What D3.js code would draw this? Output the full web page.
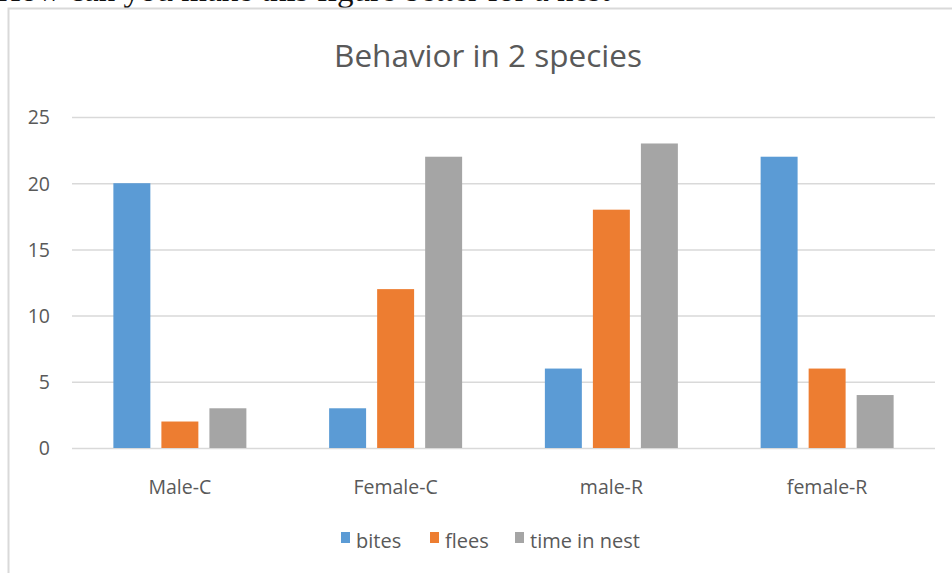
<!DOCTYPE html>
<html>
<head>
<meta charset="utf-8">
<script src="https://cdn.jsdelivr.net/npm/d3@7"></script>
<style>
  html, body { margin: 0; padding: 0; background: #fff; }
  svg { display: block; }
</style>
</head>
<body>
<svg id="chart" width="952" height="573"></svg>
<script>
// Behaviour counts per group
const categories = ["Male-C", "Female-C", "male-R", "female-R"];
const seriesNames = ["bites", "flees", "time in nest"];
const bites = [20, 3, 6, 22];
const flees = [2, 12, 18, 6];
const timeInNest = [3, 22, 23, 4];
const yTicks = [0, 5, 10, 15, 20, 25];
const colors = ["#5b9bd5", "#ed7d31", "#a5a5a5"];

const seriesValues = [bites, flees, timeInNest];
const svg = d3.select("#chart");
const textColor = "#595959";
const font = "'Open Sans', 'Liberation Sans', sans-serif";

// Question line sitting above the chart frame
svg.append("text")
  .attr("x", -3).attr("y", 0.5)
  .attr("font-family", "'Liberation Serif', 'Times New Roman', serif")
  .attr("font-size", 33)
  .attr("fill", "#111")
  .text("How can you make this figure better for a nest");

// Chart frame
svg.append("rect")
  .attr("x", 8.5).attr("y", 8.5)
  .attr("width", 960).attr("height", 600)
  .attr("fill", "none")
  .attr("stroke", "#d9d9d9").attr("stroke-width", 2);

const plot = { left: 72, right: 935, top: 117, bottom: 448 };

const x0 = d3.scaleBand().domain(categories).range([plot.left, plot.right]).paddingInner(0).paddingOuter(0);
const groupW = 133;
const x1 = d3.scaleBand().domain(seriesNames).range([0, groupW]).paddingInner(0.23);
const y = d3.scaleLinear().domain([0, 25]).range([plot.bottom, plot.top]);

// Gridlines
svg.append("g")
  .selectAll("line").data(yTicks).join("line")
  .attr("x1", plot.left).attr("x2", plot.right)
  .attr("y1", d => y(d) + 0.5).attr("y2", d => y(d) + 0.5)
  .attr("stroke", "#d9d9d9").attr("stroke-width", 1.5);

// Y axis labels
const yAxis = d3.axisLeft(y).tickValues(yTicks).tickSize(0).tickPadding(0);
const yg = svg.append("g").attr("transform", `translate(${50},0)`).call(yAxis);
yg.select(".domain").remove();
yg.selectAll("text")
  .attr("font-family", font).attr("font-size", 19.5)
  .attr("fill", textColor).attr("dy", "0.35em");

// Category labels
const xAxis = d3.axisBottom(x0).tickSize(0).tickPadding(0);
const xg = svg.append("g").attr("transform", `translate(0,${487})`).call(xAxis);
xg.select(".domain").remove();
xg.selectAll("text")
  .attr("font-family", font).attr("font-size", 19.5)
  .attr("fill", textColor).attr("dy", "0.35em");

// Bars
const groups = svg.append("g").selectAll("g").data(categories).join("g")
  .attr("transform", d => `translate(${x0(d) + x0.bandwidth() / 2 - groupW / 2},0)`);
groups.selectAll("rect")
  .data((c, i) => seriesNames.map((s, k) => ({ s, k, v: seriesValues[k][i] })))
  .join("rect")
  .attr("x", d => x1(d.s))
  .attr("width", x1.bandwidth())
  .attr("y", d => y(d.v))
  .attr("height", d => y(0) - y(d.v))
  .attr("fill", d => colors[d.k]);

// Title
svg.append("text")
  .attr("x", 488).attr("y", 67)
  .attr("text-anchor", "middle")
  .attr("font-family", font).attr("font-size", 31.5)
  .attr("fill", textColor)
  .text("Behavior in 2 species");

// Legend
const legendX = [341, 430, 515];
const lg = svg.append("g").selectAll("g").data(seriesNames).join("g")
  .attr("transform", (d, i) => `translate(${legendX[i]},${532})`);
lg.append("rect").attr("width", 9).attr("height", 11).attr("fill", (d, i) => colors[i]);
lg.append("text")
  .attr("x", 15).attr("y", 16)
  .attr("font-family", font).attr("font-size", 20)
  .attr("fill", textColor)
  .text(d => d);
</script>
</body>
</html>
